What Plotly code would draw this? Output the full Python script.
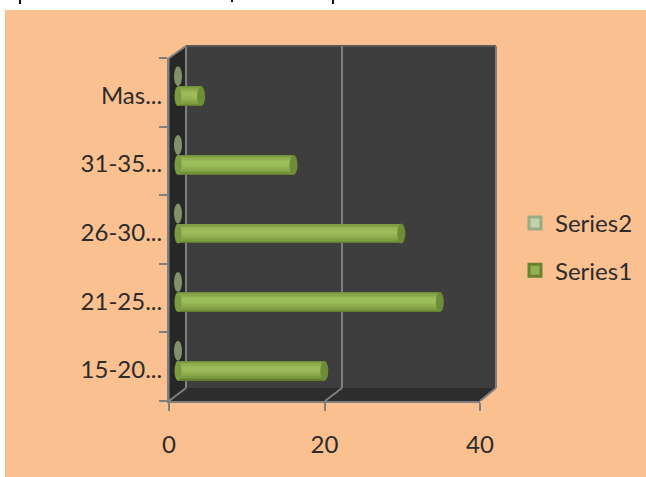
import plotly.graph_objects as go

W, H = 646, 477
categories = ["15-20...", "21-25...", "26-30...", "31-35...", "Mas..."]
series1 = [19, 34, 29, 15, 3]
series2 = [0, 0, 0, 0, 0]
x_ticks = [0, 20, 40]

FONT = "Lato"
TXT = "#2b2b2b"
GRAY = "#7f7f7f"
PEACH = "#FBC090"


def px(x):
    return x / W


def py(y):
    return 1 - y / H


def poly(points, fill, layer="below"):
    path = "M" + "L".join(f"{px(a):.5f},{py(b):.5f}" for a, b in points) + "Z"
    return dict(type="path", path=path, xref="paper", yref="paper", fillcolor=fill,
                line=dict(width=0), layer=layer)


def seg(a, b, c, d, color=GRAY, width=2, layer="below"):
    return dict(type="line", x0=px(a), y0=py(b), x1=px(c), y1=py(d), xref="paper", yref="paper",
                line=dict(color=color, width=width), layer=layer)


def cap(xv, cat, xa, ya, w, h, fill, opacity=1.0):
    return dict(type="circle", xref=xa, yref=ya, xsizemode="pixel", ysizemode="pixel",
                xanchor=xv, yanchor=cat, x0=-w / 2, x1=w / 2, y0=-h / 2, y1=h / 2,
                fillcolor=fill, opacity=opacity, line=dict(width=0), layer="above")


shapes = [
    dict(type="rect", xref="paper", yref="paper", x0=px(5), x1=1, y0=0, y1=py(10),
         fillcolor=PEACH, line=dict(width=0), layer="below"),
    # descenders of the cropped heading above the panel
    seg(20, 0, 20, 4, "#111111", 2),
    seg(232, 0, 232, 2, "#111111", 2),
    seg(333, 0, 333, 4, "#111111", 2),
    poly([(186, 46), (496, 46), (496, 388), (186, 388)], "#3e3e3e"),
    poly([(169, 58), (186, 46), (186, 388), (169, 401)], "#272727"),
    poly([(169, 401), (186, 388), (496, 388), (480, 401)], "#2d2d2d"),
    seg(186, 46, 186, 388),
    seg(169, 58, 186, 46),
    seg(186, 46, 496, 46, "#5a5a5a"),
    seg(496, 46, 496, 388),
    seg(186, 388, 169, 401),
    seg(496, 388, 480, 401),
    seg(342, 46, 342, 388),
    seg(342, 388, 325, 401),
]

for c, v in zip(categories, series1):
    shapes.append(cap(0, c, "x2", "y2", 7, 20, "#7c9a42"))
    shapes.append(cap(v, c, "x2", "y2", 8, 20, "#6f8c38"))
for c, v in zip(categories, series2):
    shapes.append(cap(v, c, "x2", "y3", 8, 20, "#7f9269"))

fig = go.Figure()
# the axis carrier: an invisible series on the visible axes
fig.add_trace(go.Bar(y=categories, x=series2, orientation="h", showlegend=False, hoverinfo="skip",
                     marker=dict(color="rgba(0,0,0,0)")))
fig.add_trace(go.Bar(y=categories, x=series2, orientation="h", name="Series2", xaxis="x2", yaxis="y3",
                     width=0.01, legendgroup="s2",
                     marker=dict(color="#c3d2ae", line=dict(color="#9aab84", width=3))))
fig.add_trace(go.Bar(y=categories, x=series1, orientation="h", name="Series1", xaxis="x2", yaxis="y2",
                     width=0.01, legendgroup="s1",
                     marker=dict(color="#93b153", line=dict(color="#66842f", width=3))))
layers = [(0.29, 0.0, "#637f2e"), (0.27, 0.008, "#728f39"), (0.24, 0.012, "#7f9d43"), (0.20, 0.016, "#8aa84b"),
          (0.15, 0.02, "#92b052"), (0.10, 0.025, "#98b757"), (0.05, 0.03, "#9dbc5b")]
for w, lift, color in layers:
    fig.add_trace(go.Bar(y=categories, x=series1, orientation="h", showlegend=False, xaxis="x2", yaxis="y2",
                         width=w, offset=-w / 2 + lift, marker=dict(color=color, line=dict(width=0))))

y_common = dict(type="category", categoryorder="array", categoryarray=categories, range=[-0.5, 4.5])

fig.update_layout(
    width=W, height=H, autosize=False,
    margin=dict(l=0, r=0, t=0, b=0, autoexpand=False),
    paper_bgcolor="white", plot_bgcolor="rgba(0,0,0,0)",
    barmode="overlay",
    font=dict(family=FONT, size=24, color=TXT),
    xaxis=dict(domain=[px(169), px(480)], range=[0, 40], tickvals=x_ticks, ticks="outside", ticklen=8, tickwidth=2,
               tickcolor=GRAY, showline=True, linecolor=GRAY, linewidth=2, showgrid=False, zeroline=False,
               ticklabelstandoff=13, tickfont=dict(family=FONT, size=24, color=TXT), fixedrange=True),
    yaxis=dict(domain=[py(401), py(58)], ticks="outside", ticklen=8, tickwidth=2, tickcolor=GRAY, tickson="boundaries",
               showline=True, linecolor=GRAY, linewidth=2, showgrid=False, zeroline=False, ticklabelshift=3,
               tickfont=dict(family=FONT, size=24, color=TXT), fixedrange=True, **y_common),
    xaxis2=dict(domain=[px(162.6), px(486)], range=[-2, 40], anchor="y2", visible=False, fixedrange=True),
    yaxis2=dict(domain=[py(405), py(62)], anchor="x2", visible=False, fixedrange=True, **y_common),
    yaxis3=dict(domain=[py(385), py(42)], anchor="x2", visible=False, fixedrange=True, **y_common),
    legend=dict(x=px(515), y=py(201), xanchor="left", yanchor="top", tracegroupgap=13, traceorder="grouped",
                bgcolor="rgba(0,0,0,0)", font=dict(family=FONT, size=24, color=TXT), itemwidth=30),
    shapes=shapes,
    bargap=0,
)
fig.write_html("out.html", config=dict(displayModeBar=False),
               post_script="document.body.style.margin='0';document.body.style.overflow='hidden';")
